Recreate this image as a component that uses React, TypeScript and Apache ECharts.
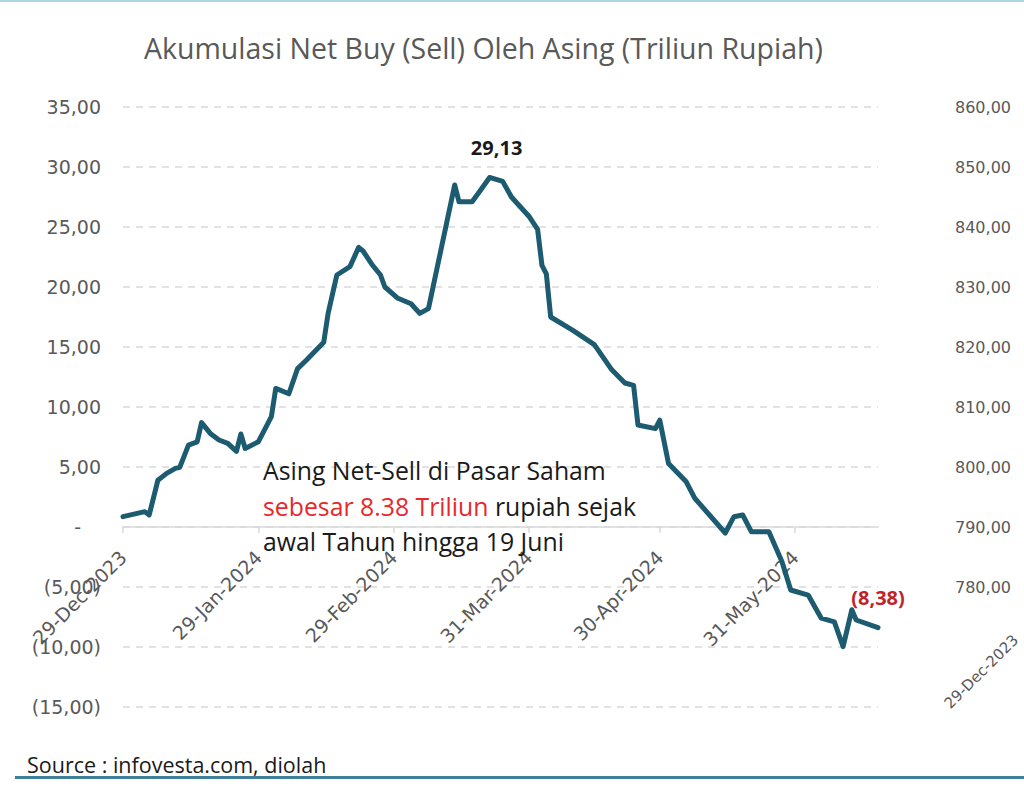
import React, { useEffect, useRef } from "react";
import * as echarts from "echarts";

const TITLE = "Akumulasi Net Buy (Sell) Oleh Asing (Triliun Rupiah)";
const SOURCE = "Source : infovesta.com, diolah";

const dates = [
  "2023-12-29", "2024-01-03", "2024-01-04", "2024-01-06", "2024-01-08", "2024-01-10",
  "2024-01-11", "2024-01-13", "2024-01-15", "2024-01-16", "2024-01-18", "2024-01-20",
  "2024-01-22", "2024-01-24", "2024-01-25", "2024-01-26", "2024-01-29", "2024-02-01",
  "2024-02-02", "2024-02-05", "2024-02-07", "2024-02-09", "2024-02-13", "2024-02-14",
  "2024-02-16", "2024-02-19", "2024-02-21", "2024-02-22", "2024-02-24", "2024-02-26",
  "2024-02-27", "2024-03-01", "2024-03-04", "2024-03-06", "2024-03-08", "2024-03-14",
  "2024-03-15", "2024-03-18", "2024-03-20", "2024-03-22", "2024-03-25", "2024-03-27",
  "2024-03-31", "2024-04-02", "2024-04-03", "2024-04-04", "2024-04-05", "2024-04-10",
  "2024-04-15", "2024-04-19", "2024-04-22", "2024-04-24", "2024-04-25", "2024-04-29",
  "2024-04-30", "2024-05-02", "2024-05-06", "2024-05-08", "2024-05-15", "2024-05-17",
  "2024-05-19", "2024-05-21", "2024-05-25", "2024-05-28", "2024-05-30", "2024-06-03",
  "2024-06-06", "2024-06-09", "2024-06-11", "2024-06-13", "2024-06-14", "2024-06-19",
];

const values = [
  0.86, 1.28, 1.0, 3.9, 4.47, 4.89,
  4.97, 6.83, 7.1, 8.7, 7.8, 7.25,
  6.97, 6.3, 7.75, 6.55, 7.1, 9.2,
  11.55, 11.1, 13.2, 13.9, 15.4, 17.8,
  21.0, 21.7, 23.3, 23.0, 21.9, 21.0,
  20.0, 19.06, 18.6, 17.8, 18.2, 28.5,
  27.1, 27.1, 28.1, 29.13, 28.8, 27.5,
  25.9, 24.8, 21.8, 21.1, 17.5, 16.4,
  15.2, 13.1, 12.0, 11.8, 8.5, 8.2,
  8.9, 5.3, 3.8, 2.4, -0.5, 0.86,
  1.0, -0.4, -0.4, -2.9, -5.25, -5.67,
  -7.6, -7.9, -9.97, -6.9, -7.75, -8.38,
];

const tickDates = ["2023-12-29", "2024-01-29", "2024-02-29", "2024-03-31", "2024-04-30", "2024-05-31"];
const tickLabels = ["29-Dec-2023", "29-Jan-2024", "29-Feb-2024", "31-Mar-2024", "30-Apr-2024", "31-May-2024"];

const leftMin = -15;
const leftMax = 35;
const leftStep = 5;
const rightMin = 760;
const rightMax = 860;
const rightStep = 10;
const rightFirstShown = 780;

const annotationLine1 = "Asing Net-Sell di Pasar Saham";
const annotationRed = "sebesar 8.38 Triliun";
const annotationRest = " rupiah sejak";
const annotationLine3 = "awal Tahun hingga 19 Juni";
const secondaryAxisLabel = "29-Dec-2023";

const DAY = 86400000;
const toUtc = (s: string) => {
  const [y, m, d] = s.split("-").map(Number);
  return Date.UTC(y, m - 1, d);
};
// day offset from the first date: a plain calendar-day scale
const toDay = (s: string) => Math.round((toUtc(s) - toUtc(dates[0])) / DAY);

const fmt = (v: number) => {
  const s = Math.abs(v).toFixed(2).replace(".", ",");
  return v < 0 ? `(${s})` : s;
};

const GRID_TOP = 107;
const GRID_BOTTOM = 79;
const CHART_H = 786;

export default function App() {
  const ref = useRef<HTMLDivElement>(null);

  useEffect(() => {
    if (!ref.current) return;
    const chart = echarts.init(ref.current, null, { renderer: "svg" });

    const tickDays = tickDates.map(toDay);
    const labelMap = new Map<number, string>();
    tickDays.forEach((t, i) => labelMap.set(t, tickLabels[i]));

    const peakIdx = values.indexOf(Math.max(...values));
    const lastIdx = values.length - 1;

    // move the x axis (line, ticks, labels) up to the zero line of the left axis
    const gridH = CHART_H - GRID_TOP - GRID_BOTTOM;
    const zeroFromBottom = ((0 - leftMin) / (leftMax - leftMin)) * gridH;

    const data = dates.map((d, i) => [toDay(d), values[i]]);

    const option: any = {
      animation: false,
      backgroundColor: "#ffffff",
      title: {
        text: TITLE,
        left: 139,
        top: 28,
        textStyle: {
          fontFamily: "Open Sans",
          fontSize: 28.5,
          fontWeight: "normal",
          color: "#595959",
        },
      },
      grid: {
        left: 123,
        right: 146,
        top: GRID_TOP,
        bottom: GRID_BOTTOM,
        containLabel: false,
        outerBoundsMode: "none",
      },
      xAxis: {
        type: "value",
        position: "bottom",
        offset: -zeroFromBottom,
        min: 0,
        max: toDay(dates[dates.length - 1]),
        axisLine: {
          show: true,
          onZero: false,
          lineStyle: { color: "#d9d9d9", width: 1.5 },
        },
        axisTick: {
          show: true,
          length: 6,
          customValues: tickDays,
          lineStyle: { color: "#d9d9d9", width: 1.5 },
        },
        axisLabel: {
          show: true,
          customValues: tickDays,
          rotate: 45,
          margin: 27,
          color: "#595959",
          fontSize: 19,
          fontFamily: "DejaVu Sans",
          formatter: (v: number) => labelMap.get(Math.round(v)) ?? "",
        },
        splitLine: { show: false },
      },
      yAxis: [
        {
          type: "value",
          position: "left",
          min: leftMin,
          max: leftMax,
          interval: leftStep,
          axisLine: { show: false },
          axisTick: { show: false },
          splitLine: {
            show: true,
            lineStyle: { color: "#d9d9d9", type: [7, 6], width: 1.5 },
          },
          axisLabel: {
            margin: 22,
            color: "#595959",
            fontSize: 19,
            fontFamily: "DejaVu Sans",
            formatter: (v: number) => {
              if (v === 0) return "{z|-}";
              return fmt(v);
            },
            rich: {
              z: { padding: [0, 20, 0, 0], fontSize: 19, color: "#595959", fontFamily: "DejaVu Sans" },
            },
          },
        },
        {
          type: "value",
          position: "right",
          min: rightMin,
          max: rightMax,
          interval: rightStep,
          axisLine: { show: false },
          axisTick: { show: false },
          splitLine: { show: false },
          axisLabel: {
            margin: 77,
            color: "#595959",
            fontSize: 16,
            fontFamily: "DejaVu Sans",
            formatter: (v: number) => (v < rightFirstShown ? "" : fmt(v)),
          },
        },
      ],
      series: [
        {
          type: "line",
          yAxisIndex: 0,
          data,
          showSymbol: false,
          symbol: "none",
          lineStyle: { color: "#1c5b70", width: 5, join: "round", cap: "round" },
          z: 5,
          markPoint: {
            symbol: "circle",
            symbolSize: 2,
            itemStyle: { color: "rgba(0,0,0,0)" },
            data: [
              {
                coord: data[peakIdx],
                value: values[peakIdx],
                label: {
                  show: true,
                  position: "top",
                  distance: 19,
                  offset: [7, 0],
                  formatter: () => fmt(values[peakIdx]),
                  fontFamily: "Open Sans",
                  fontSize: 20,
                  fontWeight: "bold",
                  color: "#1a1a1a",
                },
              },
              {
                coord: data[lastIdx],
                value: values[lastIdx],
                label: {
                  show: true,
                  position: "top",
                  distance: 19,
                  formatter: () => fmt(values[lastIdx]),
                  fontFamily: "Open Sans",
                  fontSize: 20,
                  fontWeight: "bold",
                  color: "#c0232b",
                },
              },
            ],
          },
        },
      ],
      graphic: [
        { type: "rect", shape: { x: 0, y: 0, width: 1024, height: 2 }, style: { fill: "#a9d6e2" } },
        { type: "rect", shape: { x: 15, y: 776, width: 1009, height: 3 }, style: { fill: "#41809a" } },
        {
          type: "text",
          x: 27,
          y: 764,
          style: {
            text: SOURCE,
            fontFamily: "Open Sans",
            fontSize: 21.5,
            fill: "#1a1a1a",
            textAlign: "left",
            textVerticalAlign: "middle",
          },
        },
        {
          type: "text",
          x: 263,
          y: 470,
          z: 10,
          style: {
            text: annotationLine1,
            fontFamily: "Open Sans",
            fontSize: 24.8,
            fill: "#1a1a1a",
            textAlign: "left",
            textVerticalAlign: "middle",
          },
        },
        {
          type: "text",
          x: 263,
          y: 506,
          z: 10,
          style: {
            text: `{r|${annotationRed}}${annotationRest}`,
            fontFamily: "Open Sans",
            fontSize: 24.8,
            fill: "#1a1a1a",
            textAlign: "left",
            textVerticalAlign: "middle",
            rich: {
              r: { fill: "#e8282b", fontFamily: "Open Sans", fontSize: 24.8 },
            },
          },
        },
        {
          type: "text",
          x: 263,
          y: 541,
          z: 10,
          style: {
            text: annotationLine3,
            fontFamily: "Open Sans",
            fontSize: 24.8,
            fill: "#1a1a1a",
            textAlign: "left",
            textVerticalAlign: "middle",
          },
        },
        {
          type: "text",
          x: 947,
          y: 706,
          rotation: Math.PI / 4,
          style: {
            text: secondaryAxisLabel,
            fontFamily: "DejaVu Sans",
            fontSize: 15,
            fill: "#595959",
            textAlign: "left",
            textVerticalAlign: "middle",
          },
        },
      ],
    };

    chart.setOption(option);
    return () => chart.dispose();
  }, []);

  return (
    <div
      ref={ref}
      style={{ position: "fixed", left: 0, top: 0, width: 1024, height: 786, background: "#fff" }}
    />
  );
}
